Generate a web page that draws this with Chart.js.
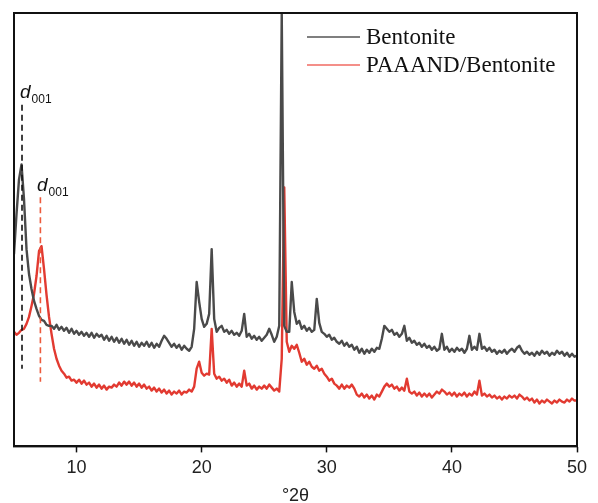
<!DOCTYPE html>
<html>
<head>
<meta charset="utf-8">
<script src="https://cdn.jsdelivr.net/npm/chart.js@4/dist/chart.umd.min.js"></script>
<style>
  html, body { margin: 0; padding: 0; background: #fff; }
  #wrap { width: 598px; height: 503px; }
</style>
</head>
<body>
<div id="wrap"><canvas id="xrdChart" width="598" height="503"></canvas></div>
<script>
// angles (°2θ), read every 0.2°
const twoTheta = [
  5.0, 5.2, 5.4, 5.6, 5.8, 6.0, 6.2, 6.4, 6.6, 6.8, 7.0, 7.2, 7.4, 7.6, 7.8,
  8.0, 8.2, 8.4, 8.6, 8.8, 9.0, 9.2, 9.4, 9.6, 9.8, 10.0, 10.2, 10.4, 10.6, 10.8,
  11.0, 11.2, 11.4, 11.6, 11.8, 12.0, 12.2, 12.4, 12.6, 12.8, 13.0, 13.2, 13.4, 13.6, 13.8,
  14.0, 14.2, 14.4, 14.6, 14.8, 15.0, 15.2, 15.4, 15.6, 15.8, 16.0, 16.2, 16.4, 16.6, 16.8,
  17.0, 17.2, 17.4, 17.6, 17.8, 18.0, 18.2, 18.4, 18.6, 18.8, 19.0, 19.2, 19.4, 19.6, 19.8,
  20.0, 20.2, 20.4, 20.6, 20.8, 21.0, 21.2, 21.4, 21.6, 21.8, 22.0, 22.2, 22.4, 22.6, 22.8,
  23.0, 23.2, 23.4, 23.6, 23.8, 24.0, 24.2, 24.4, 24.6, 24.8, 25.0, 25.2, 25.4, 25.6, 25.8,
  26.0, 26.2, 26.4, 26.6, 26.8, 27.0, 27.2, 27.4, 27.6, 27.8, 28.0, 28.2, 28.4, 28.6, 28.8,
  29.0, 29.2, 29.4, 29.6, 29.8, 30.0, 30.2, 30.4, 30.6, 30.8, 31.0, 31.2, 31.4, 31.6, 31.8,
  32.0, 32.2, 32.4, 32.6, 32.8, 33.0, 33.2, 33.4, 33.6, 33.8, 34.0, 34.2, 34.4, 34.6, 34.8,
  35.0, 35.2, 35.4, 35.6, 35.8, 36.0, 36.2, 36.4, 36.6, 36.8, 37.0, 37.2, 37.4, 37.6, 37.8,
  38.0, 38.2, 38.4, 38.6, 38.8, 39.0, 39.2, 39.4, 39.6, 39.8, 40.0, 40.2, 40.4, 40.6, 40.8,
  41.0, 41.2, 41.4, 41.6, 41.8, 42.0, 42.2, 42.4, 42.6, 42.8, 43.0, 43.2, 43.4, 43.6, 43.8,
  44.0, 44.2, 44.4, 44.6, 44.8, 45.0, 45.2, 45.4, 45.6, 45.8, 46.0, 46.2, 46.4, 46.6, 46.8,
  47.0, 47.2, 47.4, 47.6, 47.8, 48.0, 48.2, 48.4, 48.6, 48.8, 49.0, 49.2, 49.4, 49.6, 49.8,
  50.0
];

// relative intensity, Bentonite
const bentonite = [
  193, 233, 268, 283, 248, 198, 173, 158, 146, 138, 131, 127, 126, 122, 121,
  121, 118, 122, 117, 120, 116, 119, 114, 118, 113, 116, 112, 115, 111, 114,
  110, 114, 109, 113, 110, 112, 107, 111, 106, 110, 105, 109, 104, 108, 103,
  107, 102, 106, 101, 105, 100, 104, 101, 105, 100, 104, 99, 103, 100, 106,
  111, 108, 104, 100, 103, 99, 102, 97, 101, 98, 96, 100, 118, 165, 145,
  128, 120, 123, 133, 198, 128, 115, 119, 121, 115, 117, 113, 116, 112, 114,
  111, 116, 133, 110, 113, 108, 111, 107, 110, 106, 109, 112, 118, 112, 105,
  110, 121, 435, 121, 115, 115, 165, 135, 123, 126, 118, 121, 116, 119, 115,
  117, 148, 124, 115, 113, 110, 112, 107, 109, 105, 103, 106, 101, 104, 100,
  102, 97, 100, 94, 98, 93, 97, 94, 98, 95, 99, 98, 108, 121, 118,
  115, 117, 112, 114, 110, 113, 121, 106, 109, 104, 106, 102, 104, 100, 103,
  99, 101, 97, 100, 96, 98, 113, 97, 100, 95, 98, 95, 99, 96, 98,
  94, 98, 111, 97, 100, 97, 113, 98, 100, 96, 99, 95, 97, 93, 96,
  94, 97, 93, 96, 98, 95, 99, 101, 96, 93, 95, 92, 94, 91, 95,
  92, 96, 93, 95, 91, 94, 92, 96, 93, 95, 91, 94, 90, 93, 90,
  91
];

// relative intensity, PAAAND/Bentonite
const paaandBentonite = [
  115, 112, 114, 117, 118, 123, 130, 141, 153, 171, 196, 201, 178, 152, 130,
  113, 98, 88, 81, 76, 73, 69, 70, 66, 67, 64, 67, 63, 66, 62,
  64, 60, 63, 59, 62, 58, 61, 57, 60, 59, 62, 60, 64, 61, 65,
  62, 65, 61, 64, 60, 63, 59, 62, 58, 60, 56, 59, 55, 58, 54,
  57, 53, 56, 52, 55, 53, 56, 52, 55, 54, 57, 55, 60, 78, 85,
  74, 71, 73, 72, 118, 73, 68, 70, 66, 68, 64, 67, 61, 64, 60,
  63, 60, 76, 61, 63, 58, 61, 57, 60, 58, 61, 58, 62, 59, 56,
  58, 55, 88, 260, 105, 95, 101, 98, 102, 94, 85, 88, 82, 85, 80,
  78, 81, 76, 78, 73, 70, 66, 68, 63, 61, 58, 62, 58, 61, 59,
  62, 58, 52, 50, 53, 49, 52, 48, 51, 47, 52, 50, 55, 60, 63,
  60, 62, 58, 60, 56, 59, 56, 68, 55, 53, 55, 51, 54, 50, 53,
  50, 53, 49, 52, 55, 53, 57, 55, 52, 54, 51, 54, 50, 53, 51,
  54, 50, 53, 51, 55, 52, 66, 51, 53, 50, 52, 49, 51, 48, 50,
  47, 50, 48, 51, 49, 51, 48, 52, 50, 47, 49, 46, 48, 44, 47,
  43, 46, 44, 47, 45, 43, 46, 44, 47, 45, 44, 47, 45, 48, 46,
  46
];

const seriesNames = ['Bentonite', 'PAAAND/Bentonite'];
const seriesColors = ['#4a4a4a', '#e23a31'];

// d001 markers: [angle, top of dashed line, bottom of dashed line]
const d001Bentonite = [5.64, 343, 78];
const d001Paaand = [7.11, 250, 65];

function toPoints(values) {
    return twoTheta.map((t, i) => ({ x: t, y: values[i] }));
}

// frame, legend and d001 markers
const decorPlugin = {
    id: 'decor',
    afterDatasetsDraw(chart) {
        const ctx = chart.ctx;
        const area = chart.chartArea;
        const xs = chart.scales.x;
        const ys = chart.scales.y;
        ctx.save();

        // dashed d001 lines
        ctx.lineWidth = 1.6;
        ctx.setLineDash([6, 4]);
        [[d001Bentonite, '#111111'], [d001Paaand, '#ec5a3c']].forEach(([m, col]) => {
            const px = xs.getPixelForValue(m[0]);
            ctx.strokeStyle = col;
            ctx.beginPath();
            ctx.moveTo(px, ys.getPixelForValue(m[1]));
            ctx.lineTo(px, ys.getPixelForValue(m[2]));
            ctx.stroke();
        });
        ctx.setLineDash([]);

        // d001 labels
        ctx.fillStyle = '#111';
        ctx.textBaseline = 'alphabetic';
        ctx.textAlign = 'left';
        function label(px, py) {
            ctx.font = 'italic 19px "Liberation Sans", Arial, sans-serif';
            ctx.fillText('d', px, py);
            const w = ctx.measureText('d').width;
            ctx.font = '12px "Liberation Sans", Arial, sans-serif';
            ctx.fillText('001', px + w + 1, py + 5);
        }
        label(20, 98);
        label(37, 191);

        // legend
        ctx.font = '23px "Liberation Serif", "Times New Roman", serif';
        ctx.textBaseline = 'middle';
        chart.data.datasets.forEach((ds, i) => {
            const y = 37 + i * 28;
            ctx.strokeStyle = i === 0 ? '#555' : '#f06a62';
            ctx.lineWidth = 1.5;
            ctx.beginPath();
            ctx.moveTo(area.left + 293, y);
            ctx.lineTo(area.left + 346, y);
            ctx.stroke();
            ctx.fillStyle = '#111';
            ctx.fillText(ds.label, area.left + 352, y + 1);
        });

        // plot frame
        ctx.strokeStyle = '#111';
        ctx.lineWidth = 2;
        ctx.strokeRect(area.left, area.top, area.right - area.left, area.bottom - area.top);
        ctx.restore();
    }
};

const ctx = document.getElementById('xrdChart').getContext('2d');
const xrdChart = new Chart(ctx, {
    type: 'line',
    data: {
        datasets: [
            {
                label: seriesNames[0],
                data: toPoints(bentonite),
                borderColor: seriesColors[0],
                borderWidth: 2.4,
                borderJoinStyle: 'round',
                pointRadius: 0,
                tension: 0
            },
            {
                label: seriesNames[1],
                data: toPoints(paaandBentonite),
                borderColor: seriesColors[1],
                borderWidth: 2.4,
                borderJoinStyle: 'round',
                pointRadius: 0,
                tension: 0
            }
        ]
    },
    options: {
        responsive: false,
        animation: false,
        layout: { padding: { left: 14, right: 21, top: 13, bottom: -3 } },
        plugins: {
            legend: { display: false },
            tooltip: { enabled: false }
        },
        scales: {
            x: {
                type: 'linear',
                min: 5,
                max: 50,
                afterBuildTicks: (axis) => {
                    axis.ticks = [10, 20, 30, 40, 50].map(v => ({ value: v }));
                },
                grid: {
                    drawOnChartArea: false,
                    drawTicks: true,
                    tickLength: 6,
                    tickWidth: 1.5,
                    tickColor: '#111',
                    color: '#111'
                },
                border: { display: true, color: '#111', width: 2 },
                ticks: {
                    padding: 5,
                    color: '#222',
                    maxRotation: 0,
                    font: { family: '"Liberation Sans", Arial, sans-serif', size: 18 }
                },
                title: {
                    display: true,
                    text: '°2θ',
                    color: '#222',
                    padding: { top: 3, bottom: 1 },
                    font: { family: '"Liberation Sans", Arial, sans-serif', size: 18, lineHeight: 1 }
                }
            },
            y: {
                display: false,
                min: 0,
                max: 435
            }
        }
    },
    plugins: [decorPlugin]
});
</script>
</body>
</html>
